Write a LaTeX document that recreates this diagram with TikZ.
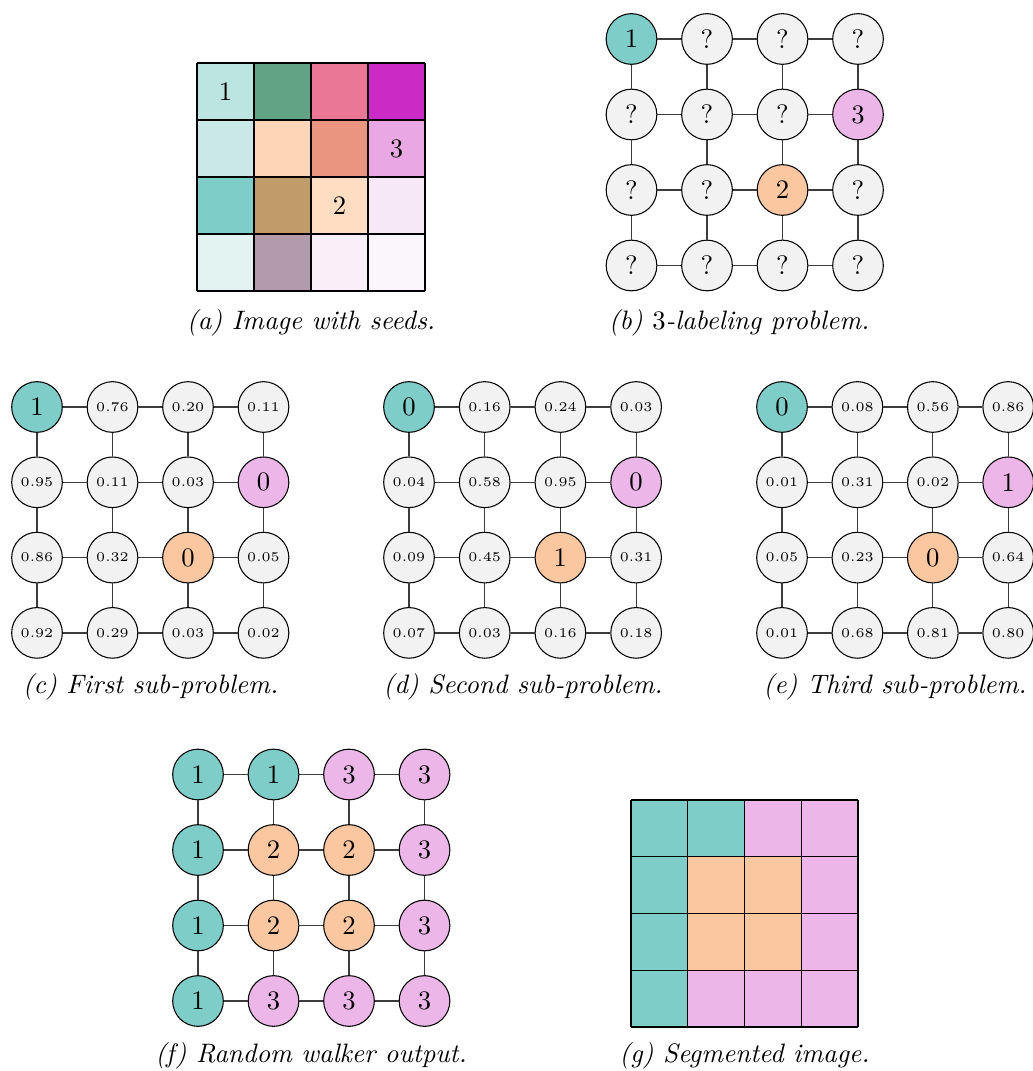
\documentclass[tikz,border=0pt]{standalone}
\usetikzlibrary{calc}
\definecolor{cteal}{RGB}{126,205,200}
\definecolor{corange}{RGB}{251,199,160}
\definecolor{cviolet}{RGB}{236,182,233}
\definecolor{cgray}{RGB}{242,242,242}
\definecolor{clink}{RGB}{60,60,60}
\definecolor{a11}{RGB}{188,228,224}
\definecolor{a12}{RGB}{98,163,134}
\definecolor{a13}{RGB}{235,119,151}
\definecolor{a14}{RGB}{201,43,196}
\definecolor{a21}{RGB}{201,232,230}
\definecolor{a22}{RGB}{255,213,184}
\definecolor{a23}{RGB}{234,149,128}
\definecolor{a24}{RGB}{233,168,228}
\definecolor{a31}{RGB}{126,205,200}
\definecolor{a32}{RGB}{193,156,107}
\definecolor{a33}{RGB}{255,221,195}
\definecolor{a34}{RGB}{247,232,247}
\definecolor{a41}{RGB}{226,243,241}
\definecolor{a42}{RGB}{180,154,173}
\definecolor{a43}{RGB}{250,238,249}
\definecolor{a44}{RGB}{251,246,252}
\tikzset{
  gn/.style={circle, draw=black, line width=0.4pt, minimum size=19pt, inner sep=0pt, font=\normalsize},
  nt/.style={gn, fill=cteal},
  no/.style={gn, fill=corange},
  nv/.style={gn, fill=cviolet},
  ng/.style={gn, fill=cgray},
  np/.style={gn, fill=cgray, font=\tiny},
  link/.style={draw=clink, line width=0.45pt},
  capt/.style={font=\normalsize\itshape, inner sep=0pt},
  cellline/.style={draw=black, line width=0.45pt},
}
\newcommand{\rwgrid}[6]{%
  \foreach \lab/\st [count=\k from 0] in {#6} {
    \pgfmathtruncatemacro{\ci}{mod(\k,4)}
    \pgfmathtruncatemacro{\rj}{div(\k,4)}
    \node[\st] (#1-\rj-\ci) at ({#2+\ci*#4},{#3+\rj*#5}) {\lab};
  }
  \foreach \r in {0,...,3} {
    \foreach \c [count=\cn from 1] in {0,1,2} {
      \draw[link] (#1-\r-\c) -- (#1-\r-\cn);
      \draw[link] (#1-\c-\r) -- (#1-\cn-\r);
    }
  }
}
\newcommand{\cellgrid}[3]{% x0, y0, cell size
  \foreach \i in {0,...,4} {
    \draw[cellline] ({#1+\i*#3},#2) -- ({#1+\i*#3},{#2+4*#3});
    \draw[cellline] (#1,{#2+\i*#3}) -- ({#1+4*#3},{#2+\i*#3});
  }
}
\begin{document}
\begin{tikzpicture}[x=0.375pt,y=-0.375pt]
\useasboundingbox (0,0) rectangle (1032,1071);
% (a) image with seeds
\foreach \row/\cols in {1/{a11,a12,a13,a14},2/{a21,a22,a23,a24},3/{a31,a32,a33,a34},4/{a41,a42,a43,a44}} {
  \foreach \cc [count=\col from 1] in \cols {
    \fill[\cc] ({197+(\col-1)*57},{63+(\row-1)*57}) rectangle ++(57,57);
  }
}
\cellgrid{197}{63}{57}
\node (a1) at (225.5,91.5) {1};
\node (a3) at (396.5,148.5) {3};
\node (a2) at (339.5,205.5) {2};
\node[capt] (capa) at (311,323) {(a) Image with seeds.};
% (b)
\rwgrid{b}{631.5}{39}{75.5}{75.5}{1/nt,?/ng,?/ng,?/ng,?/ng,?/ng,?/ng,3/nv,?/ng,?/ng,2/no,?/ng,?/ng,?/ng,?/ng,?/ng}
\node[capt] (capb) at (739,323) {(b) $3$-labeling problem.};
% (c)
\rwgrid{c}{37}{407}{75.5}{75.3}{1/nt,0.76/np,0.20/np,0.11/np,0.95/np,0.11/np,0.03/np,0/nv,0.86/np,0.32/np,0/no,0.05/np,0.92/np,0.29/np,0.03/np,0.02/np}
\node[capt] (capc) at (150.5,687) {(c) First sub-problem.};
% (d)
\rwgrid{d}{409}{407}{75.7}{75.3}{0/nt,0.16/np,0.24/np,0.03/np,0.04/np,0.58/np,0.95/np,0/nv,0.09/np,0.45/np,1/no,0.31/np,0.07/np,0.03/np,0.16/np,0.18/np}
\node[capt] (capd) at (523,687) {(d) Second sub-problem.};
% (e)
\rwgrid{e}{782}{407}{75.4}{75.3}{0/nt,0.08/np,0.56/np,0.86/np,0.01/np,0.31/np,0.02/np,1/nv,0.05/np,0.23/np,0/no,0.64/np,0.01/np,0.68/np,0.81/np,0.80/np}
\node[capt] (cape) at (895,687) {(e) Third sub-problem.};
% (f)
\rwgrid{f}{198}{774.5}{75.5}{75.5}{1/nt,1/nt,3/nv,3/nv,1/nt,2/no,2/no,3/nv,1/nt,2/no,2/no,3/nv,1/nt,3/nv,3/nv,3/nv}
\node[capt] (capf) at (311,1056) {(f) Random walker output.};
% (g)
\foreach \row/\cols in {1/{cteal,cteal,cviolet,cviolet},2/{cteal,corange,corange,cviolet},3/{cteal,corange,corange,cviolet},4/{cteal,cviolet,cviolet,cviolet}} {
  \foreach \cc [count=\col from 1] in \cols {
    \fill[\cc] ({631+(\col-1)*56.75},{800+(\row-1)*56.75}) rectangle ++(56.75,56.75);
  }
}
\cellgrid{631}{800}{56.75}
\node[capt] (capg) at (744.5,1056) {(g) Segmented image.};
\end{tikzpicture}
\end{document}
